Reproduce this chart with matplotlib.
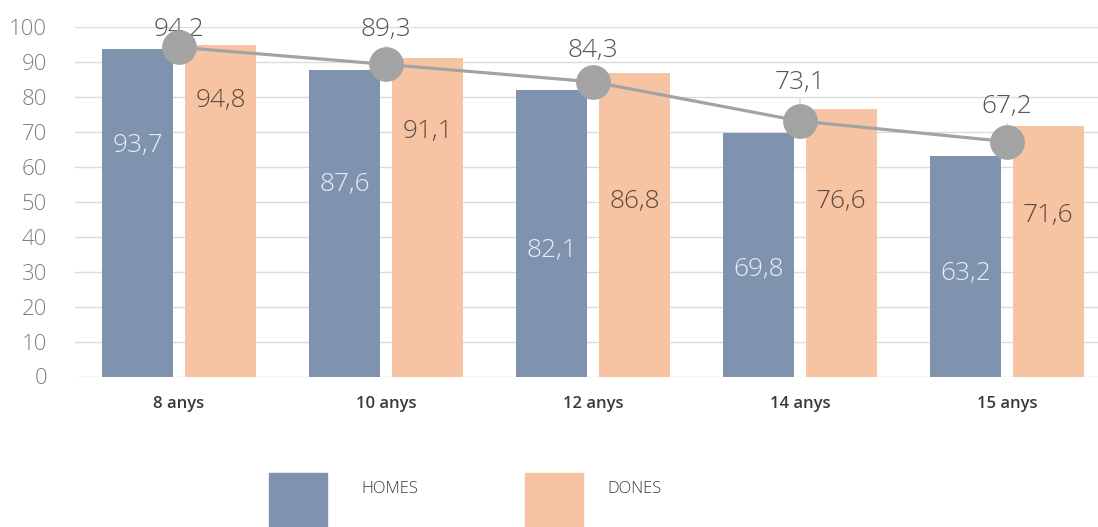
import matplotlib.pyplot as plt
from matplotlib.patches import Rectangle
import numpy as np

categories = ["8 anys", "10 anys", "12 anys", "14 anys", "15 anys"]
homes = [93.7, 87.6, 82.1, 69.8, 63.2]
dones = [94.8, 91.1, 86.8, 76.6, 71.6]
total = [94.2, 89.3, 84.3, 73.1, 67.2]

# where the bar value labels sit (layout only)
homes_label_y = [66, 55, 36, 30.5, 29.5]
dones_label_y = [79, 70, 50, 50, 46]
total_label_dy = [18, 35, 31, 39, 35]  # pixels above marker

BLUE = "#7f93ae"
PEACH = "#f7c4a3"
GREY = "#a3a3a3"

plt.rcParams["font.family"] = ["Open Sans", "DejaVu Sans"]

fig = plt.figure(figsize=(10.98, 5.27), dpi=100, facecolor="white")
ax = fig.add_axes([75 / 1098, 1 - 376.5 / 527, 1 - 75 / 1098, 349.5 / 527])

x = np.arange(len(categories))
w = 0.343
ax.bar(x - 0.2, homes, width=w, color=BLUE, zorder=2)
ax.bar(x + 0.2, dones, width=w, color=PEACH, zorder=2)

ax.plot(x, total, color=GREY, lw=2.3, marker="o", markersize=24,
        markerfacecolor=GREY, markeredgecolor=GREY, zorder=6, clip_on=False)

for i in range(len(categories)):
    ax.text(x[i] - 0.2, homes_label_y[i], f"{homes[i]:.1f}".replace(".", ","),
            ha="center", va="center", fontsize=19, color="#e6edf5",
            fontweight="light", zorder=3)
    ax.text(x[i] + 0.2, dones_label_y[i], f"{dones[i]:.1f}".replace(".", ","),
            ha="center", va="center", fontsize=19, color="#5e4b40",
            fontweight="light", zorder=3)
    ax.annotate(f"{total[i]:.1f}".replace(".", ","), xy=(x[i], total[i]),
                xytext=(0, total_label_dy[i] * 0.72), textcoords="offset points",
                ha="center", va="center", fontsize=19, color="#555555",
                fontweight="light", zorder=5, annotation_clip=False,
                arrowprops=dict(arrowstyle="-", color="#c8c8c8", lw=0.8,
                                shrinkA=1, shrinkB=11))

ax.set_xlim(-0.503, 4.44)
ax.set_ylim(0, 100)
ax.set_yticks(range(0, 101, 10))
ax.set_xticks(x)
ax.set_xticklabels(categories, fontsize=12, fontweight="semibold", color="#3a3a3a")
ax.tick_params(axis="y", length=0, pad=20, labelsize=16, labelcolor="#808080")
ax.tick_params(axis="x", length=0, pad=14)
for lbl in ax.get_yticklabels():
    lbl.set_fontweight("light")
ax.grid(axis="y", color="#dcdcdc", lw=1, zorder=0)
for s in ax.spines.values():
    s.set_visible(False)

# legend
fig.patches.append(Rectangle((269 / 1098, 0), 58 / 1098, 54 / 527,
                             transform=fig.transFigure, color=BLUE))
fig.patches.append(Rectangle((525 / 1098, 0), 58 / 1098, 54 / 527,
                             transform=fig.transFigure, color=PEACH))
fig.text(361 / 1098, 1 - 489 / 527, "HOMES", fontsize=12, color="#3a3a3a",
         fontweight="light", va="center")
fig.text(607 / 1098, 1 - 489 / 527, "DONES", fontsize=12, color="#3a3a3a",
         fontweight="light", va="center")

fig.savefig("out.png", dpi=100, facecolor="white")
